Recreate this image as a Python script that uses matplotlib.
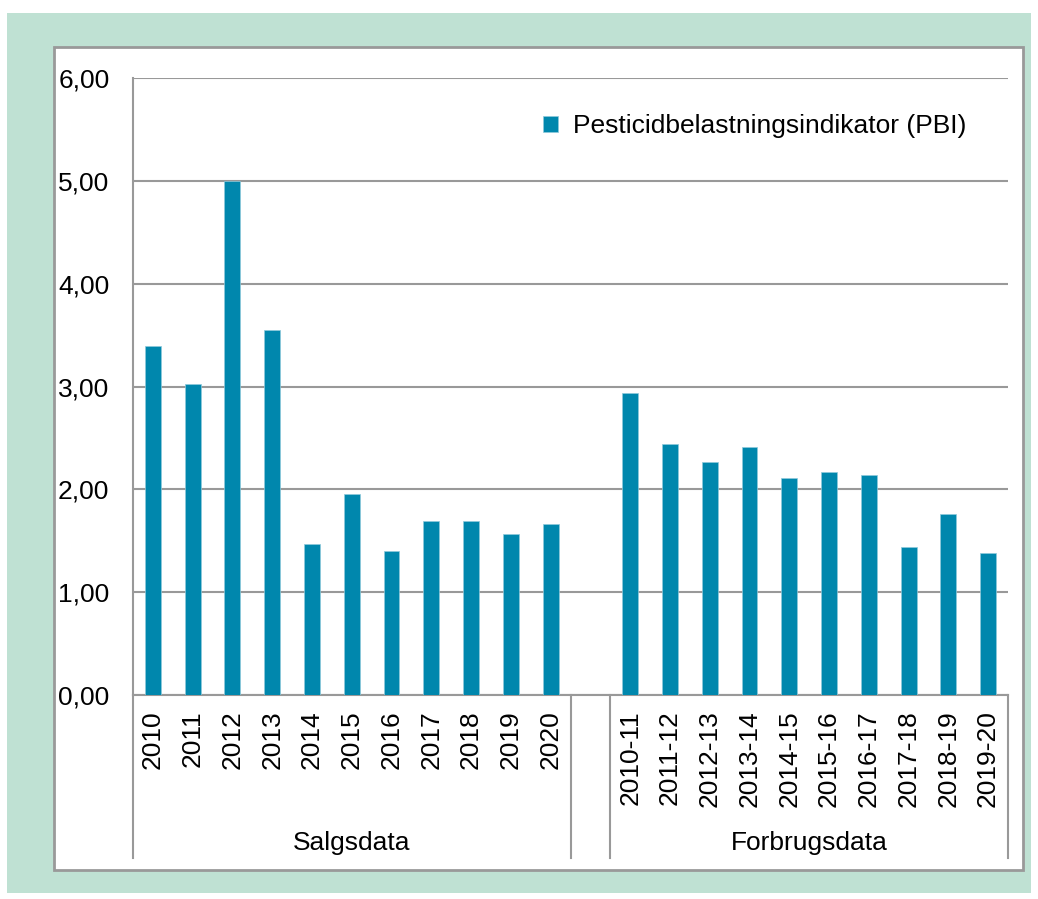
import matplotlib
matplotlib.use("Agg")
import matplotlib.pyplot as plt
import matplotlib.transforms as mtransforms
from matplotlib.patches import Rectangle
import numpy as np

plt.rcParams["font.family"] = ["Liberation Sans", "DejaVu Sans"]

salgs_labels = ["2010", "2011", "2012", "2013", "2014", "2015",
                "2016", "2017", "2018", "2019", "2020"]
salgs_values = [3.39, 3.02, 5.00, 3.55, 1.465, 1.95, 1.40, 1.69, 1.69, 1.565, 1.66]

forbrug_labels = ["2010-11", "2011-12", "2012-13", "2013-14", "2014-15",
                  "2015-16", "2016-17", "2017-18", "2018-19", "2019-20"]
forbrug_values = [2.94, 2.44, 2.27, 2.41, 2.11, 2.17, 2.14, 1.435, 1.76, 1.38]

group_names = ["Salgsdata", "Forbrugsdata"]
series_name = "Pesticidbelastningsindikator (PBI)"

bar_color = "#0087ad"
grey = "#999999"
W, H = 1038, 899

fig = plt.figure(figsize=(W / 100, H / 100), dpi=100)

# green frame and white panel (behind the axes)
fig.patches.append(Rectangle((7 / W, 1 - 893 / H), (1031 - 7) / W, (893 - 13) / H,
                             transform=fig.transFigure, facecolor="#bfe1d3",
                             edgecolor="none", zorder=-3))
fig.patches.append(Rectangle((54 / W, 1 - 870 / H), (1023 - 54) / W, (870 - 47) / H,
                             transform=fig.transFigure, facecolor="white",
                             edgecolor=grey, linewidth=2, zorder=-2))

left, right, top, bottom = 133, 1008, 78, 695
ax = fig.add_axes([left / W, 1 - bottom / H, (right - left) / W, (bottom - top) / H])
ax.set_facecolor("none")

# positions: one empty slot between the two groups
x1 = np.arange(len(salgs_values))
x2 = np.arange(len(forbrug_values)) + len(salgs_values) + 1
ax.bar(x1, salgs_values, width=0.4, color=bar_color, edgecolor="#8fcadb",
       linewidth=0.5, zorder=3, label=series_name)
ax.bar(x2, forbrug_values, width=0.4, color=bar_color, edgecolor="#8fcadb",
       linewidth=0.5, zorder=3)

ax.set_xlim(-0.5, x2[-1] + 0.5)
ax.set_ylim(0, 6)
ax.set_yticks(range(7))
ax.set_yticklabels([f"{v:.2f}".replace(".", ",") for v in range(7)])
ax.set_xticks(list(x1) + list(x2))
ax.set_xticklabels(salgs_labels + forbrug_labels, rotation=90, va="top")
ax.tick_params(axis="both", length=0, labelsize=19)
ax.tick_params(axis="y", pad=17)
ax.tick_params(axis="x", pad=11)

ax.grid(axis="y", color=grey, linewidth=1.5, zorder=1)
ax.set_axisbelow(True)
for s in ["top", "right"]:
    ax.spines[s].set_visible(False)
ax.spines["left"].set_color(grey)
ax.spines["left"].set_linewidth(1.5)
ax.spines["bottom"].set_color(grey)
ax.spines["bottom"].set_linewidth(1.5)

# group separators and group names below the axis
trans = mtransforms.blended_transform_factory(ax.transData, ax.transAxes)
sep_low = -(858 - bottom) / (bottom - top)
for xs in [-0.5, x1[-1] + 0.5, x2[0] - 0.5, x2[-1] + 0.5]:
    ax.plot([xs, xs], [0, sep_low], transform=trans, color=grey, lw=1.5,
            clip_on=False, zorder=2)
label_y = -(843 - bottom) / (bottom - top)
ax.text(x1.mean(), label_y, group_names[0], transform=trans, ha="center",
        va="center", fontsize=19)
ax.text(x2.mean(), label_y, group_names[1], transform=trans, ha="center",
        va="center", fontsize=19)

ax.legend(loc="center left", bbox_to_anchor=((543 - left) / (right - left),
                                             (bottom - 126) / (bottom - top)),
          frameon=False, fontsize=19, handlelength=0.55, handleheight=0.55,
          handletextpad=0.6, borderpad=0, borderaxespad=0)

fig.savefig("out.png", dpi=100)
